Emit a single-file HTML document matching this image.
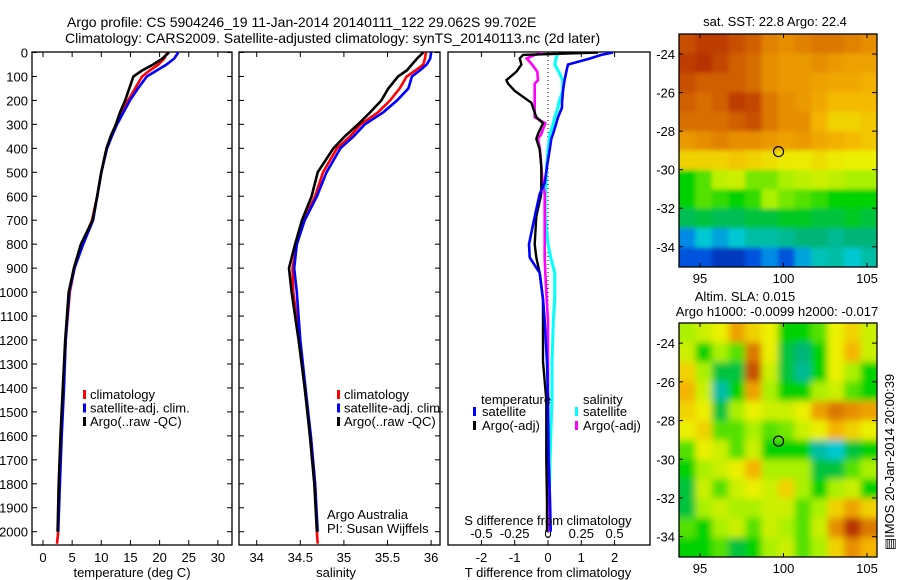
<!DOCTYPE html>
<html><head><meta charset="utf-8"><style>
html,body{margin:0;padding:0;background:#fff;}
svg{display:block;font-family:"Liberation Sans",sans-serif;}
text{fill:#000;}
</style></head><body>
<svg id="fig" width="900" height="580" viewBox="0 0 900 580">
<defs>
<clipPath id="c1"><rect x="32" y="52" width="200" height="493"/></clipPath>
<clipPath id="c2"><rect x="239" y="52" width="201" height="493"/></clipPath>
<clipPath id="c3"><rect x="448" y="52" width="202" height="493"/></clipPath>
<clipPath id="cm1"><rect x="679" y="34" width="198" height="233"/></clipPath>
<clipPath id="cm2"><rect x="679" y="323" width="198" height="234"/></clipPath>
<filter id="b1" x="-5%" y="-5%" width="110%" height="110%"><feGaussianBlur stdDeviation="2"/></filter>
<filter id="b2" x="-5%" y="-5%" width="110%" height="110%"><feGaussianBlur stdDeviation="3.5"/></filter>
</defs>
<text x="67" y="27" font-size="14">Argo profile: CS 5904246_19 11-Jan-2014 20140111_122 29.062S 99.702E</text>
<text x="65" y="43" font-size="14">Climatology: CARS2009. Satellite-adjusted climatology: synTS_20140113.nc (2d later)</text>
</svg>
<script>
// ---- profile data ----
const depths = [0,25,50,75,100,150,200,250,300,350,400,500,600,700,800,900,1000,1200,1400,1600,1800,2000,2050];
const tClim = [21.3,20.8,19.8,18.3,17.0,15.8,14.6,13.6,12.6,11.7,10.9,10.0,9.3,8.4,6.7,5.4,4.6,3.9,3.5,3.1,2.8,2.6,2.4];
const tSat  = [23.2,22.5,21.2,19.5,17.8,16.3,14.9,13.8,12.7,11.8,11.0,10.0,9.3,8.6,6.9,5.4,4.5,3.9,3.6,3.2,2.9,2.6,null];
const tArgo = [21.6,20.5,18.9,17.0,15.5,14.8,14.1,13.2,12.5,11.6,10.9,10.0,9.3,8.5,6.5,5.3,4.4,3.8,3.4,3.0,2.7,2.5,null];
const sClim = [35.94,35.93,35.91,35.82,35.72,35.64,35.53,35.39,35.19,35.07,34.92,34.76,34.67,34.54,34.46,34.41,34.42,34.49,34.55,34.62,34.67,34.69,34.70];
const sSat  = [36.0,35.99,35.95,35.87,35.78,35.74,35.61,35.45,35.24,35.11,34.96,34.80,34.69,34.55,34.46,34.43,34.46,34.50,34.56,34.62,34.67,34.70,null];
const sArgo = [35.91,35.84,35.78,35.72,35.62,35.51,35.43,35.30,35.16,35.01,34.88,34.70,34.63,34.52,34.44,34.37,34.40,34.48,34.55,34.61,34.66,34.69,null];
// ---- difference data ----
const dDepth = [0,10,25,50,80,115,130,160,210,230,270,295,340,360,405,475,545,590,685,800,855,920,1030,1120,1290,1450,1700,1870,2000];
const dTSat  = [1.95,1.6,1.26,0.6,0.55,0.5,0.48,0.45,0.42,0.42,0.3,0.25,0.15,0.1,0.05,-0.03,-0.1,-0.25,-0.4,-0.57,-0.55,-0.25,-0.15,-0.1,-0.03,0,0.02,0.06,0.08];
const dTArgo = [1.5,-0.75,-0.85,-0.8,-0.95,-1.25,-1.2,-1.0,-0.5,-0.45,-0.35,-0.15,-0.3,-0.35,-0.25,-0.2,-0.2,-0.2,-0.35,-0.4,-0.35,-0.25,-0.15,-0.15,-0.15,-0.05,-0.05,-0.03,-0.03];
const dSSat  = [0.075,0.07,0.06,0.05,0.08,0.11,0.11,0.11,0.08,0.075,0.05,0.04,0.015,0.01,0,-0.01,-0.015,-0.02,-0.02,0,0.02,0.05,0.05,0.04,0.03,0.03,0.015,0.01,0.01];
const dSArgo = [-0.04,-0.1,-0.16,-0.12,-0.08,-0.075,-0.1,-0.1,-0.1,-0.1,-0.1,-0.02,-0.05,-0.075,-0.06,-0.05,-0.04,-0.025,-0.025,-0.025,-0.025,-0.02,-0.01,0,0,0,0,0,0];
// ---- tick labels ----
const depthTicks = [0,100,200,300,400,500,600,700,800,900,1000,1100,1200,1300,1400,1500,1600,1700,1800,1900,2000];
const tTicks = [0,5,10,15,20,25,30];
const sTicks = ["34","34.5","35","35.5","36"];
const dTTicks = ["-2","-1","0","1","2"];
const dSTicks = ["-0.5","-0.25","0","0.25","0.5"];
const latTicks = [-24,-26,-28,-30,-32,-34];
const lonTicks = [95,100,105];
// ---- map grids (colour index 0=dark blue .. 1=dark red), rows lat -23..-35, cols lon 93.7..105.6 ----
const sstGrid = [
[0.88,0.92,0.92,0.88,0.85,0.78,0.75,0.78,0.8,0.8,0.78,0.75],
[0.92,0.95,0.9,0.85,0.82,0.75,0.72,0.72,0.75,0.72,0.7,0.7],
[0.88,0.85,0.85,0.85,0.82,0.75,0.72,0.72,0.7,0.68,0.68,0.66],
[0.85,0.82,0.85,0.92,0.9,0.8,0.75,0.72,0.68,0.64,0.64,0.64],
[0.82,0.82,0.82,0.85,0.88,0.8,0.75,0.75,0.65,0.6,0.6,0.62],
[0.72,0.75,0.78,0.75,0.75,0.72,0.7,0.72,0.68,0.66,0.64,0.62],
[0.6,0.6,0.6,0.62,0.6,0.58,0.56,0.56,0.58,0.56,0.55,0.55],
[0.35,0.4,0.48,0.5,0.42,0.42,0.45,0.48,0.5,0.48,0.45,0.45],
[0.35,0.4,0.38,0.35,0.38,0.45,0.42,0.4,0.38,0.35,0.35,0.35],
[0.28,0.3,0.28,0.28,0.3,0.3,0.32,0.32,0.3,0.3,0.32,0.3],
[0.1,0.15,0.12,0.15,0.2,0.2,0.22,0.25,0.25,0.22,0.25,0.25],
[0.05,0.05,0.02,0.02,0.05,0.1,0.05,0.12,0.18,0.2,0.15,0.2]];
const slaGrid = [
[0.45,0.5,0.55,0.7,0.6,0.55,0.35,0.35,0.4,0.55,0.6,0.5],
[0.5,0.35,0.45,0.4,0.8,0.55,0.3,0.25,0.35,0.55,0.65,0.5],
[0.6,0.45,0.3,0.3,0.88,0.5,0.3,0.22,0.35,0.55,0.45,0.35],
[0.65,0.5,0.2,0.35,0.7,0.45,0.35,0.35,0.45,0.5,0.4,0.35],
[0.6,0.55,0.3,0.45,0.55,0.5,0.5,0.55,0.7,0.8,0.75,0.7],
[0.55,0.6,0.4,0.4,0.45,0.4,0.42,0.5,0.55,0.65,0.6,0.55],
[0.4,0.55,0.5,0.4,0.5,0.35,0.35,0.35,0.2,0.15,0.3,0.35],
[0.35,0.45,0.5,0.55,0.65,0.45,0.45,0.45,0.3,0.3,0.4,0.45],
[0.3,0.5,0.4,0.5,0.55,0.5,0.6,0.45,0.35,0.45,0.5,0.35],
[0.3,0.45,0.5,0.45,0.45,0.5,0.5,0.4,0.45,0.6,0.7,0.6],
[0.4,0.35,0.45,0.5,0.4,0.5,0.45,0.4,0.5,0.75,0.95,0.8],
[0.35,0.35,0.4,0.3,0.35,0.45,0.5,0.4,0.45,0.6,0.75,0.65]];
const argoLon = 99.702, argoLat = -29.062;

const svg = document.getElementById('fig');
const NS = 'http://www.w3.org/2000/svg';
function mk(tag, attrs, parent){const e=document.createElementNS(NS,tag);for(const k in attrs)e.setAttribute(k,attrs[k]);(parent||svg).appendChild(e);return e;}
function txt(x,y,s,size,anchor,parent){const t=mk('text',{x:x,y:y,'font-size':size,'text-anchor':anchor||'middle'},parent);t.textContent=s;return t;}

const yD = d => 52.5 + 0.2396*d;
const xT = t => 43 + 5.83*t;
const xS = s => 256.7 + 87.2*(s-34);
const xDT = v => 548 + 33.3*v;
const xDS = v => 548 + 133.2*v;

function frame(x0,x1,name){
  const g=mk('g',{});
  
  
  mk('rect',{x:x0,y:52,width:x1-x0,height:493,fill:'none',stroke:'#000','stroke-width':1.3},g);
  depthTicks.forEach(d=>{mk('line',{x1:x0,x2:x0+5,y1:yD(d),y2:yD(d),stroke:'#000'},g);mk('line',{x1:x1-5,x2:x1,y1:yD(d),y2:yD(d),stroke:'#000'},g);});
  return g;
}
function series(xs, ys, xf, color, clip, name, w){
  let pts=[];
  for(let i=0;i<xs.length;i++){ if(xs[i]===null) continue; pts.push(xf(xs[i]).toFixed(1)+','+yD(ys[i]).toFixed(1)); }
  const p=mk('polyline',{points:pts.join(' '),fill:'none',stroke:color,'stroke-width':w||2.6,'stroke-linejoin':'miter','clip-path':'url(#'+clip+')'});
  
  
}

frame(32,232,'temperature-panel');
depthTicks.forEach(d=>{const t=txt(28,yD(d)+5,String(d),13,'end');});
tTicks.forEach(v=>{mk('line',{x1:xT(v),x2:xT(v),y1:52,y2:57,stroke:'#000'});mk('line',{x1:xT(v),x2:xT(v),y1:540,y2:545,stroke:'#000'});const t=txt(xT(v),562,String(v),13);});
series(tClim,depths,xT,'#f00','c1','temperature-climatology-line');
series(tSat,depths,xT,'#00f','c1','temperature-satellite-line');
series(tArgo,depths,xT,'#000','c1','temperature-argo-line');
{const t=txt(132,577,'temperature (deg C)',13);}

frame(239,440,'salinity-panel');
sTicks.forEach(v=>{const x=xS(parseFloat(v));mk('line',{x1:x,x2:x,y1:52,y2:57,stroke:'#000'});mk('line',{x1:x,x2:x,y1:540,y2:545,stroke:'#000'});const t=txt(x,562,v,13);});
series(sClim,depths,xS,'#f00','c2','salinity-climatology-line');
series(sSat,depths,xS,'#00f','c2','salinity-satellite-line');
series(sArgo,depths,xS,'#000','c2','salinity-argo-line');
{const t=txt(336,577,'salinity',13);}
{const t=txt(327,519,'Argo Australia',13,'start');
 const t2=txt(327,533,'PI: Susan Wijffels',13,'start');}

function legend(x,items,name){
  const g=mk('g',{});
  
  
  items.forEach((it,i)=>{const y=400+i*13.5;mk('rect',{x:x,y:y-10,width:3,height:9,fill:it[1]},g);txt(x+7,y-1,it[0],13,'start',g);});
}
legend(83,[['climatology','#f00'],['satellite-adj. clim.','#00f'],['Argo(..raw -QC)','#000']],'temperature-legend');
legend(337,[['climatology','#f00'],['satellite-adj. clim.','#00f'],['Argo(..raw -QC)','#000']],'salinity-legend');

mk('rect',{x:448,y:52,width:202,height:493,fill:'none',stroke:'#000','stroke-width':1.3});
mk('line',{x1:548,x2:548,y1:52,y2:545,stroke:'#000','stroke-dasharray':'1,3'});
dTTicks.forEach(v=>{const x=xDT(parseFloat(v));mk('line',{x1:x,x2:x,y1:540,y2:545,stroke:'#000'});const t=txt(x,562,v,13);});
dSTicks.forEach(v=>{const x=xDS(parseFloat(v));mk('line',{x1:x,x2:x,y1:52,y2:57,stroke:'#000'});const t=txt(x,538,v,13);});
series(dSSat,dDepth,xDS,'#0ff','c3','salinity-satellite-diff-line',3);
series(dSArgo,dDepth,xDS,'#f0f','c3','salinity-argo-diff-line',2.6);
series(dTArgo,dDepth,xDT,'#000','c3','temperature-argo-diff-line',2.4);
series(dTSat,dDepth,xDT,'#00f','c3','temperature-satellite-diff-line',2.6);
{const t=txt(548,525,'S difference from climatology',13);
 const t2=txt(548,577,'T difference from climatology',13);}
{const g=mk('g',{});
 txt(481,404,'temperature',13,'start',g);txt(583,404,'salinity',13,'start',g);
 mk('rect',{x:473,y:407,width:3,height:9,fill:'#00f'},g);txt(482,416,'satellite',13,'start',g);
 mk('rect',{x:473,y:421,width:3,height:9,fill:'#000'},g);txt(482,430,'Argo(-adj)',13,'start',g);
 mk('rect',{x:575,y:407,width:3,height:9,fill:'#0ff'},g);txt(583,416,'satellite',13,'start',g);
 mk('rect',{x:575,y:421,width:3,height:9,fill:'#f0f'},g);txt(583,430,'Argo(-adj)',13,'start',g);}

const stops=[[0,[0,40,170]],[0.07,[0,100,240]],[0.15,[0,200,210]],[0.25,[0,180,120]],[0.35,[0,210,0]],[0.45,[170,240,0]],[0.55,[235,240,0]],[0.65,[245,180,0]],[0.78,[225,130,0]],[0.9,[195,70,0]],[1,[170,30,0]]];
function cmap(v){for(let i=1;i<stops.length;i++){if(v<=stops[i][0]){const a=stops[i-1],b=stops[i],f=(v-a[0])/(b[0]-a[0]);const c=a[1].map((x,j)=>Math.round(x+(b[1][j]-x)*f));return 'rgb('+c.join(',')+')';}}return 'rgb(170,30,0)';}

const lonL=93.74, lonR=105.6, latT=-22.96, latB=-35.05;
function drawMap(grid, y0, y1, clip, blur, name){
  const xL=x=>679+(x-lonL)*(198/(lonR-lonL));
  const yL=y=>y0+(latT-y)*((y1-y0)/(latT-latB));
  const g=mk('g',{'clip-path':'url(#'+clip+')'});
  
  
  const inner=mk('g',{filter:'url(#'+blur+')'},g);
  const nr=grid.length,nc=grid[0].length;
  const dLat=(latT-latB)/nr, dLon=(lonR-lonL)/nc;
  for(let r=-1;r<=nr;r++)for(let c=-1;c<=nc;c++){
    const rr=Math.min(nr-1,Math.max(0,r)),cc=Math.min(nc-1,Math.max(0,c));
    const x=xL(lonL+c*dLon),y=yL(latT-r*dLat);
    const cell=mk('rect',{x:x.toFixed(1),y:y.toFixed(1),width:(xL(lonL+(c+1)*dLon)-x+0.6).toFixed(1),height:(yL(latT-(r+1)*dLat)-y+0.6).toFixed(1),fill:cmap(grid[rr][cc])},inner);
    
    
  }
  mk('rect',{x:679,y:y0,width:198,height:y1-y0,fill:'none',stroke:'#000','stroke-width':1.3});
  latTicks.forEach(v=>{const y=yL(v);mk('line',{x1:872,x2:877,y1:y,y2:y,stroke:'#000'});mk('line',{x1:679,x2:683,y1:y,y2:y,stroke:'#000'});const t=txt(675,y+5,String(v),13,'end');});
  lonTicks.forEach(v=>{const x=xL(v);mk('line',{x1:x,x2:x,y1:y0,y2:y0+4,stroke:'#000'});mk('line',{x1:x,x2:x,y1:y1-4,y2:y1,stroke:'#000'});const t=txt(x,y1+16,String(v),13);});
  const m=mk('circle',{cx:xL(argoLon),cy:yL(argoLat),r:5,fill:'none',stroke:'#000','stroke-width':1.2});
  
  
}
drawMap(sstGrid,34,267,'cm1','b1','sst-map');
drawMap(slaGrid,323,557,'cm2','b2','sla-map');
{const t=txt(775,26,'sat. SST: 22.8 Argo: 22.4',13);
 const t2=txt(745,301,'Altim. SLA: 0.015',13);
 const t3=txt(777,316,'Argo h1000: -0.0099 h2000: -0.017',13);
 const t4=mk('text',{x:0,y:0,'font-size':13,'text-anchor':'middle',transform:'translate(894,462) rotate(-90)'});t4.textContent='\u25A4IMOS 20-Jan-2014 20:00:39';
 }
</script>
</body></html>
